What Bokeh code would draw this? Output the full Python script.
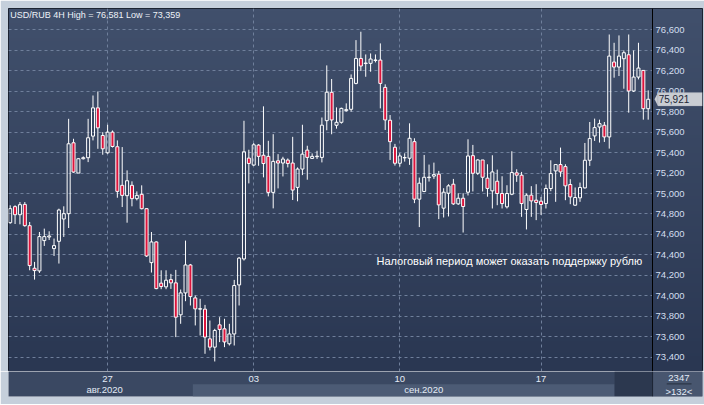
import numpy as np
from bokeh.plotting import figure
from bokeh.models import (Range1d, FixedTicker, NumeralTickFormatter, Label,
                          LinearAxis, BoxAnnotation, PolyAnnotation)
from bokeh.core.properties import value
from bokeh.layouts import column
from bokeh.embed import file_html
from bokeh.resources import INLINE

# ---------------- data (USD/RUB, 4H candles) ----------------
opens = [74715, 74872, 74793, 74894, 74686, 74270, 74244, 74540, 74575, 74462,
         74533, 74751, 74803, 75496, 75200, 75340, 75350, 75561, 75837, 75567,
         75398, 75600, 75457, 75080, 74979, 75080, 74950, 74992, 74852, 74325,
         74527, 74124, 74088, 74159, 74127, 73815, 74029, 74302, 73980, 73870,
         73870, 73580, 73499, 73717, 73678, 73532, 73628, 74107, 74361, 75346,
         75278, 75473, 75374, 75363, 75011, 75320, 75298, 75327, 75298, 75060,
         75239, 75424, 75343, 75360, 75353, 75712, 75989, 75667, 75696, 75810,
         75823, 76076, 76320, 76270, 76272, 76300, 76304, 76037, 75716, 75452,
         75296, 75348, 75345, 75507, 74945, 75020, 75155, 75170, 75189, 74857,
         75003, 75091, 74899, 74954, 75013, 75370, 75198, 75328, 75150, 75026,
         75120, 75000, 74870, 74993, 75202, 75179, 74844, 74984, 74935, 74925,
         74902, 75049, 75221, 75283, 75263, 75088, 74886, 74958, 75055, 75325,
         75563, 75650, 75667, 75553, 76285, 76236, 76317, 76356, 76002, 76138,
         76203, 75829]
highs = [74885, 74885, 74917, 74917, 74722, 74332, 74624, 74657, 74631, 74560,
         74852, 74875, 75730, 75535, 75346, 75363, 75730, 75958, 75997, 75600,
         75672, 75616, 75519, 75454, 75226, 75119, 75021, 75080, 74858, 74624,
         74533, 74250, 74250, 74215, 74254, 74062, 74540, 74312, 74003, 73971,
         73912, 73759, 73678, 73792, 73776, 73727, 74156, 74380, 75711, 75428,
         75493, 75483, 75852, 75515, 75580, 75385, 75359, 75343, 75554, 75255,
         75672, 75467, 75392, 75418, 75743, 76252, 76119, 75842, 75839, 75881,
         76164, 76499, 76581, 76359, 76369, 76359, 76467, 76067, 75767, 75485,
         75393, 75393, 75686, 75540, 75156, 75377, 75283, 75302, 75221, 75052,
         75091, 75143, 75003, 75003, 75530, 75475, 75335, 75328, 75286, 75374,
         75234, 75169, 75081, 75413, 75237, 75211, 75000, 75072, 75091, 74967,
         75088, 75325, 75283, 75449, 75286, 75140, 75059, 75107, 75494, 75699,
         75732, 75722, 75699, 76554, 76473, 76545, 76398, 76554, 76398, 76473,
         76203, 76008]
lows = [74705, 74702, 74699, 74676, 74250, 74159, 74224, 74488, 74546, 74390,
        74316, 74576, 74663, 75203, 75200, 75333, 75307, 75519, 75437, 75379,
        75389, 75450, 74959, 74868, 74715, 74875, 74933, 74845, 74380, 74228,
        74065, 74065, 74065, 74068, 73597, 73727, 73948, 73906, 73711, 73613,
        73434, 73467, 73359, 73548, 73499, 73515, 73515, 73906, 74345, 75099,
        75271, 75271, 75158, 74972, 74855, 75050, 75167, 75255, 74937, 74924,
        75180, 75135, 75337, 75337, 75304, 75618, 75579, 75634, 75683, 75800,
        75800, 76067, 76197, 76141, 76190, 76281, 75832, 75621, 75328, 75273,
        75263, 75312, 75280, 74906, 74672, 75013, 75117, 75143, 74750, 74766,
        74776, 74889, 74889, 74619, 74981, 75020, 75182, 75020, 74969, 74854,
        74886, 74854, 74854, 74984, 75114, 74772, 74649, 74772, 74740, 74791,
        74854, 75023, 74919, 75163, 74935, 74896, 74880, 74919, 75049, 75270,
        75514, 75498, 75504, 75439, 76132, 76148, 76024, 75790, 75992, 76115,
        75722, 75722]
closes = [74852, 74793, 74891, 74686, 74296, 74247, 74579, 74579, 74585, 74491,
          74839, 74803, 75486, 75210, 75340, 75350, 75545, 75837, 75642, 75437,
          75600, 75460, 75021, 74982, 75125, 74950, 74982, 74852, 74390, 74527,
          74071, 74091, 74153, 74127, 73792, 74029, 74302, 73993, 73873, 73875,
          73597, 73499, 73662, 73672, 73550, 73628, 74101, 74369, 75408, 75294,
          75476, 75363, 75293, 75011, 75314, 75298, 75337, 75294, 75034, 75239,
          75385, 75353, 75363, 75365, 75668, 75990, 75719, 75696, 75832, 75820,
          76125, 76320, 76246, 76275, 76314, 76305, 76076, 75719, 75507, 75296,
          75367, 75352, 75540, 74945, 75101, 75159, 75160, 75185, 74889, 75013,
          75075, 74899, 74954, 74873, 75367, 75198, 75328, 75159, 75050, 75211,
          75000, 74902, 75000, 75205, 75179, 74902, 74984, 74928, 74912, 74893,
          75049, 75195, 75283, 75211, 75075, 74967, 74961, 75059, 75325, 75537,
          75644, 75683, 75553, 76343, 76236, 76343, 76376, 76002, 76138, 76226,
          75829, 75921]

price_ticks = list(range(73400, 76601, 200))
day_ticks = [20, 50, 80, 109]
day_labels = ["27", "03", "10", "17"]
month_pos = [19.4, 84.9]
month_labels = ["авг.2020", "сен.2020"]
sep_start, sep_end = 37.5, 124.1
title_text = "USD/RUB 4H High = 76,581 Low = 73,359"
note_text = "Налоговый период может оказать поддержку рублю"
last_price = 75921
last_label = "75,921"
bar_count_labels = ["2347", ">132<"]

# ---------------- derived ----------------
n = len(opens)
idx = list(range(n))
tops = [max(o, c) for o, c in zip(opens, closes)]
bots = [min(o, c) for o, c in zip(opens, closes)]
up = [i for i in idx if closes[i] >= opens[i]]
dn = [i for i in idx if closes[i] < opens[i]]

PLOT_END = 131.9          # right edge of the price area (slot units)
XR = Range1d(-0.35, 142.15)
YR = Range1d(73261, 76808)

FONT = "Liberation Sans"
LBL = "#d3deef"
FRAME_BG = "#c5cfdb"

p = figure(width=704, height=371, x_range=XR, y_range=YR,
           output_backend="svg", toolbar_location=None,
           x_axis_location=None, y_axis_location=None,
           min_border_left=8, min_border_top=8, min_border_bottom=0,
           min_border_right=2)
p.background_fill_color = "#35435e"
p.border_fill_color = FRAME_BG
p.outline_line_color = "#10141e"

# gradient background
N = 120
img = np.empty((N, 1), dtype=np.uint32)
view = img.view(dtype=np.uint8).reshape((N, 1, 4))
bot_c = np.array([0x2a, 0x37, 0x52], dtype=float)
top_c = np.array([0x41, 0x50, 0x6c], dtype=float)
for k in range(N):
    t = k / (N - 1)
    col = bot_c * (1 - t) + top_c * t
    view[k, 0, 0:3] = col.astype(np.uint8)
    view[k, 0, 3] = 255
p.image_rgba(image=[img], x=XR.start, y=YR.start, dw=PLOT_END - XR.start,
             dh=YR.end - YR.start, level="image")

p.xgrid.ticker = FixedTicker(ticks=day_ticks)
p.ygrid.ticker = FixedTicker(ticks=price_ticks)
for g in (p.xgrid, p.ygrid):
    g.grid_line_color = "#6f7f9b"
    g.grid_line_dash = "3 3"
    g.grid_line_width = 1

# right price panel background (covers the grid lines there)
p.image_rgba(image=[img], x=PLOT_END, y=YR.start, dw=XR.end - PLOT_END,
             dh=YR.end - YR.start, level="glyph")

# wicks
p.segment(x0=idx, y0=highs, x1=idx, y1=tops, line_color="white", line_width=1)
p.segment(x0=idx, y0=bots, x1=idx, y1=lows, line_color="white", line_width=1)
# bodies
p.vbar(x=up, width=0.62, top=[tops[i] for i in up], bottom=[bots[i] for i in up],
       fill_color=None, line_color="white", line_width=1)
p.vbar(x=dn, width=0.62, top=[tops[i] for i in dn], bottom=[bots[i] for i in dn],
       fill_color="#dc143c", line_color="white", line_width=1)

# price axis drawn at the right edge of the price area
ax = LinearAxis(fixed_location=PLOT_END)
ax.ticker = FixedTicker(ticks=price_ticks)
ax.formatter = NumeralTickFormatter(format="0,0")
ax.major_label_text_font = FONT
ax.major_label_text_font_size = "9.5px"
ax.major_label_text_color = LBL
ax.axis_line_color = "#000000"
ax.major_tick_line_color = None
ax.minor_tick_line_color = None
ax.major_tick_out = 0
ax.major_tick_in = 0
ax.minor_tick_out = 0
ax.major_label_standoff = 3
p.add_layout(ax, "right")

p.add_layout(Label(x=0.0, y=76749, text=title_text, text_font=FONT,
                   text_font_size="9px", text_color="#eef2f8",
                   text_baseline="middle"))
p.add_layout(Label(x=75.2, y=74343, text=note_text, text_font=FONT,
                   text_font_size="11px", text_color="#ffffff",
                   text_baseline="middle"))

# last price marker
p.add_layout(PolyAnnotation(xs=[132.3, 133.0, 133.0], ys=[last_price, last_price + 65, last_price - 65],
                            fill_color="#c9cdd3", fill_alpha=1.0, line_color=None))
p.add_layout(BoxAnnotation(left=133.0, right=XR.end, bottom=last_price - 65, top=last_price + 65,
                           fill_color="#c9cdd3", fill_alpha=1.0, line_color="#9aa2ad"))
p.add_layout(Label(x=133.15, y=last_price, text=last_label, text_font=FONT,
                   text_font_size="10px", text_color="#1b2535",
                   text_baseline="middle"))

# ---------------- bottom time bar ----------------
b = figure(width=704, height=33, x_range=XR, y_range=Range1d(0, 25),
           output_backend="svg", toolbar_location=None,
           x_axis_location=None, y_axis_location=None,
           min_border_left=8, min_border_top=0, min_border_bottom=8,
           min_border_right=2)
b.grid.visible = False
b.background_fill_color = "#3a4862"
b.border_fill_color = FRAME_BG
b.outline_line_color = None
b.quad(left=[sep_start], right=[sep_end], bottom=[0], top=[12.3],
       fill_color="#4c5b75", line_color=None)
b.quad(left=[sep_end], right=[PLOT_END], bottom=[0], top=[25],
       fill_color="#2c384f", line_color=None)
b.quad(left=[PLOT_END], right=[XR.end], bottom=[0], top=[25],
       fill_color="#48566f", line_color=None)
b.segment(x0=[PLOT_END], y0=[0], x1=[PLOT_END], y1=[25], line_color="#1c2434")
b.segment(x0=[134.8], y0=[12.6], x1=[139.9], y1=[12.6], line_color="#27303f",
          line_width=1)
b.text(x=day_ticks, y=[17.8] * len(day_ticks), text=day_labels,
       text_align="center", text_baseline="middle", text_font_size="9.5px",
       text_color="#e4ebf6", text_font=value(FONT))
b.text(x=month_pos, y=[7.1] * len(month_pos), text=month_labels,
       text_align="center", text_baseline="middle", text_font_size="9.5px",
       text_color="#e4ebf6", text_font=value(FONT))
b.text(x=[137.3, 137.3], y=[19.0, 5.3], text=bar_count_labels,
       text_align="center", text_baseline="middle", text_font_size="9.5px",
       text_color="#e4ebf6", text_font=value(FONT))

layout = column(p, b, spacing=0)
open("out.html", "w").write(file_html(layout, INLINE))
